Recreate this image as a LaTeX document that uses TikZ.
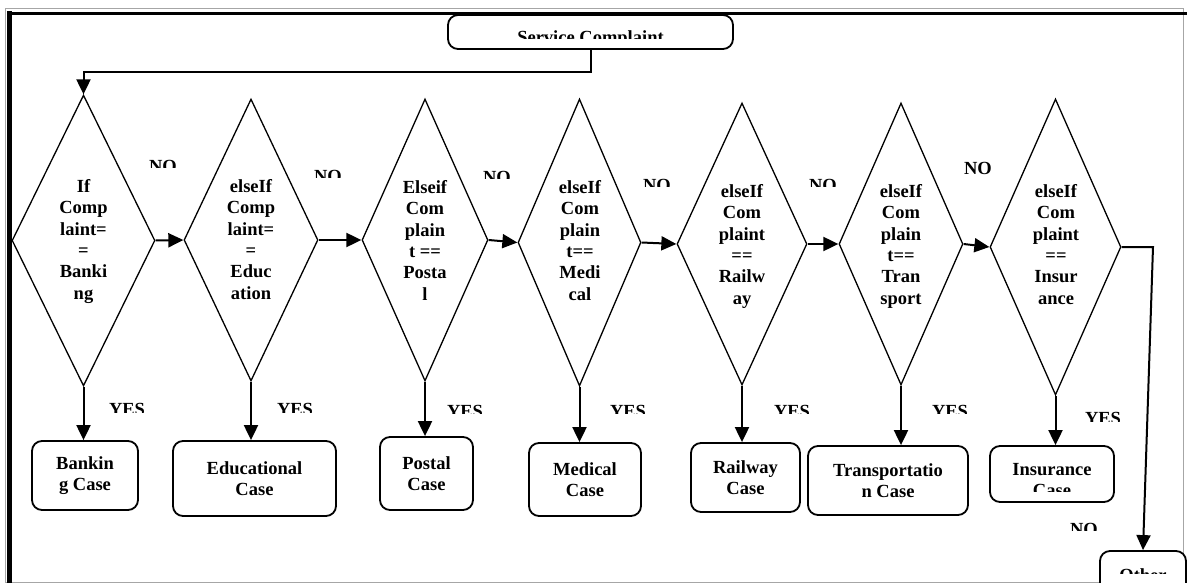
\documentclass[tikz,border=0pt]{standalone}
\usepackage{fontspec}
\setmainfont{Liberation Serif}
\usetikzlibrary{arrows.meta,shapes.geometric}

\begin{document}
\begin{tikzpicture}[x=1pt,y=-1pt,
  font=\fontsize{18.5}{21.3}\selectfont\bfseries,
  decision/.style={draw, line width=1.3pt, shape=diamond, inner sep=0pt},
  dtext/.style={anchor=north, align=center, inner sep=0pt},
  casebox/.style={draw, line width=1.8pt, rounded corners=10pt, align=center,
                  inner sep=0pt, fill=white},
  conn/.style={line width=2pt, -{Triangle[length=15pt,width=14pt]}},
  tag/.style={anchor=north, inner sep=0pt},
]
\clip (0,0) rectangle (1187,583);

% page frame
\draw[gray!70, line width=0.9pt] (5,8) rectangle (1183.5,582);
\draw[line width=3.5pt] (7,13.3) -- (1187,13.3);
\draw[line width=5pt] (9.2,11.5) -- (9.2,583);

% start box
\node[casebox, minimum width=285pt, minimum height=34pt] (sc) at (590.5,32) {};
\begin{scope}
  \clip (448,15) rectangle (733,39);
  \node[tag] (sctext) at (590.5,30) {Service Complaint};
\end{scope}

% decisions
\node[decision, minimum width=143pt, minimum height=291pt] (d1) at (83.5,240.5) {};
\node[decision, minimum width=134pt, minimum height=282pt] (d2) at (251,240) {};
\node[decision, minimum width=126pt, minimum height=282pt] (d3) at (425,240) {};
\node[decision, minimum width=123pt, minimum height=287pt] (d4) at (579.5,242.5) {};
\node[decision, minimum width=130pt, minimum height=282pt] (d5) at (742,244) {};
\node[decision, minimum width=124pt, minimum height=282pt] (d6) at (901,244) {};
\node[decision, minimum width=131pt, minimum height=296pt] (d7) at (1055.5,247) {};

\node[dtext] (t1) at (83.5,179.3) {If\\Comp\\laint=\\=\\Banki\\ng};
\node[dtext] (t2) at (251,179.3) {elseIf\\Comp\\laint=\\=\\Educ\\ation};
\node[dtext] (t3) at (425,180.3) {Elseif\\Com\\plain\\t ==\\Posta\\l};
\node[dtext] (t4) at (580,180.3) {elseIf\\Com\\plain\\t==\\Medi\\cal};
\node[dtext] (t5) at (742,184.3) {elseIf\\Com\\plaint\\==\\Railw\\ay};
\node[dtext] (t6) at (901,184.3) {elseIf\\Com\\plain\\t==\\Tran\\sport};
\node[dtext] (t7) at (1056,184.3) {elseIf\\Com\\plaint\\==\\Insur\\ance};

% outcome boxes
\node[casebox, minimum width=106pt, minimum height=69pt] (bank) at (85,475.5) {Bankin\\g Case};
\node[casebox, minimum width=163pt, minimum height=75pt] (edu) at (254.5,478.5) {Educational\\Case};
\node[casebox, minimum width=93pt, minimum height=73pt] (post) at (426.5,473.5) {Postal\\Case};
\node[casebox, minimum width=112pt, minimum height=73pt] (med) at (585,479.5) {Medical\\Case};
\node[casebox, minimum width=109pt, minimum height=69pt] (rail) at (745.5,477.5) {Railway\\Case};
\node[casebox, minimum width=160pt, minimum height=69pt] (trans) at (888,480.5) {Transportatio\\n Case};
\node[casebox, minimum width=124pt, minimum height=56pt] (ins) at (1052,474) {};
\begin{scope}
  \clip (990,446) rectangle (1114,491);
  \node[dtext] (instext) at (1052,463) {Insurance\\Case};
\end{scope}
\node[casebox, minimum width=86pt, minimum height=50pt] (oth) at (1143,576) {};
\begin{scope}
  \clip (1100,551) rectangle (1186,573);
  \node[tag] (othtext) at (1143,568) {Other};
\end{scope}

% connectors
\coordinate (bend) at (83.5,72);
\draw[conn] (sc.south) |- (bend) -- (d1.north);
\draw[conn] (d1.east) -- (d2.west);
\draw[conn] (d2.east) -- (d3.west);
\draw[conn] (d3.east) -- (d4.west);
\draw[conn] (d4.east) -- (d5.west);
\draw[conn] (d5.east) -- (d6.west);
\draw[conn] (d6.east) -- (d7.west);
\coordinate (rt) at (1153,247);
\draw[conn] (d7.east) -- (rt) -- (oth.north);

\draw[conn] (d1.south) -- (d1.south |- bank.north);
\draw[conn] (d2.south) -- (d2.south |- edu.north);
\draw[conn] (d3.south) -- (d3.south |- post.north);
\draw[conn] (d4.south) -- (d4.south |- med.north);
\draw[conn] (d5.south) -- (d5.south |- rail.north);
\draw[conn] (d6.south) -- (d6.south |- trans.north);
\draw[conn] (d7.south) -- (d7.south |- ins.north);

% branch labels
\begin{scope}
  \clip (140,150) rectangle (190,168);
  \node[tag] (no1) at (163,160) {NO};
\end{scope}
\begin{scope}
  \clip (300,160) rectangle (360,178);
  \node[tag] (no2) at (328,170) {NO};
\end{scope}
\begin{scope}
  \clip (470,160) rectangle (525,179);
  \node[tag] (no3) at (497,171) {NO};
\end{scope}
\begin{scope}
  \clip (630,170) rectangle (685,187);
  \node[tag] (no4) at (657,179) {NO};
\end{scope}
\begin{scope}
  \clip (795,170) rectangle (850,187);
  \node[tag] (no5) at (823,179) {NO};
\end{scope}
\node[tag] (no6) at (978,162) {NO};
\begin{scope}
  \clip (1055,515) rectangle (1112,530);
  \node[tag] (no7) at (1084,523) {NO};
\end{scope}

\begin{scope}
  \clip (95,395) rectangle (160,412);
  \node[tag] (yes1) at (127,403) {YES};
\end{scope}
\begin{scope}
  \clip (263,395) rectangle (328,412);
  \node[tag] (yes2) at (295,403) {YES};
\end{scope}
\begin{scope}
  \clip (433,397) rectangle (498,413);
  \node[tag] (yes3) at (465,405) {YES};
\end{scope}
\begin{scope}
  \clip (596,397) rectangle (661,413);
  \node[tag] (yes4) at (628,405) {YES};
\end{scope}
\begin{scope}
  \clip (760,397) rectangle (825,413);
  \node[tag] (yes5) at (792,405) {YES};
\end{scope}
\begin{scope}
  \clip (918,397) rectangle (983,413);
  \node[tag] (yes6) at (950,405) {YES};
\end{scope}
\begin{scope}
  \clip (1071,404) rectangle (1136,421);
  \node[tag] (yes7) at (1103,412) {YES};
\end{scope}
\end{tikzpicture}
\end{document}
